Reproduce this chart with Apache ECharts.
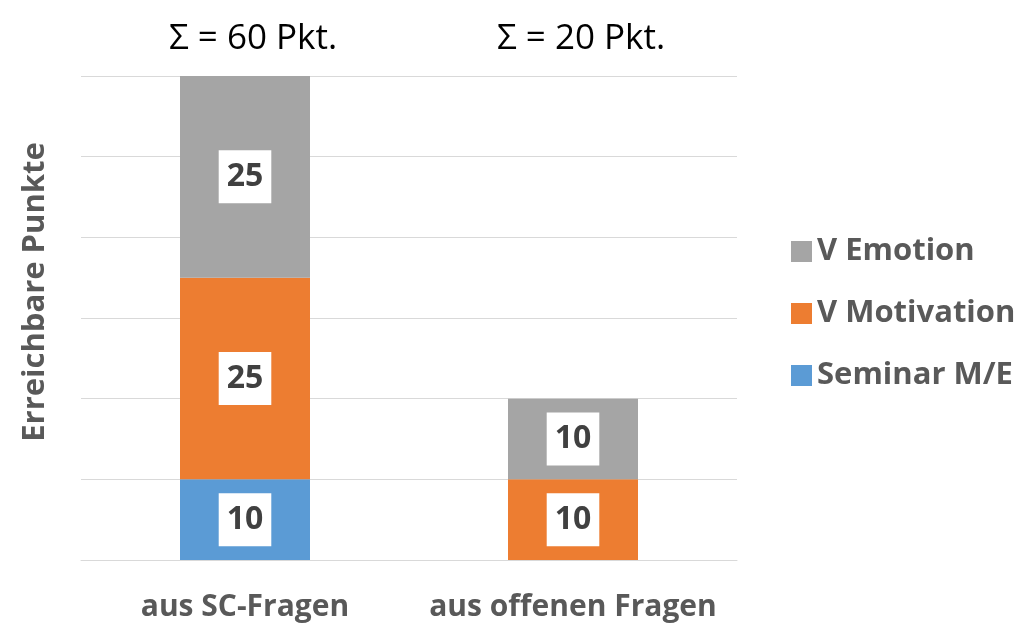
<!DOCTYPE html>
<html>
<head>
<meta charset="utf-8">
<script src="https://cdn.jsdelivr.net/npm/echarts@6/dist/echarts.min.js"></script>
<style>html,body{margin:0;padding:0;background:#fff}#c{width:1023px;height:625px}</style>
</head>
<body>
<div id="c"></div>
<script>
const categories = ['aus SC-Fragen', 'aus offenen Fragen'];
const topLabels = ['Σ = 60 Pkt.', 'Σ = 20 Pkt.'];
const seminarME = [10, null];
const vMotivation = [25, 10];
const vEmotion = [25, 10];
const yAxisName = 'Erreichbare Punkte';

const FONT = '"Open Sans", "Noto Sans", sans-serif';
const labelStyle = {
  show: true,
  position: 'inside',
  formatter: p => p.value,
  fontFamily: FONT,
  fontWeight: 'bold',
  fontSize: 32,
  color: '#404040',
  backgroundColor: '#ffffff',
  padding: [9, 8, 7, 8],
  lineHeight: 37
};
function mk(name, data, color) {
  return {
    name, type: 'bar', stack: 'total', data, barWidth: 130,
    itemStyle: { color },
    label: labelStyle,
    emphasis: { disabled: true }
  };
}
const chart = echarts.init(document.getElementById('c'));
chart.setOption({
  animation: false,
  grid: { left: 81, right: 286, top: 76, bottom: 65 },
  legend: {
    orient: 'vertical', left: 786, top: 231,
    data: ['V Emotion', 'V Motivation', 'Seminar M/E'],
    itemWidth: 21, itemHeight: 21, itemGap: 31,
    icon: 'rect',
    textStyle: { fontFamily: FONT, fontWeight: 'bold', fontSize: 31, color: '#595959' }
  },
  xAxis: [{
    type: 'category', data: categories,
    axisLine: { lineStyle: { color: '#d9d9d9' } },
    axisTick: { show: false },
    axisLabel: { interval: 0, fontFamily: FONT, fontWeight: 'bold', fontSize: 30, color: '#595959', margin: 32 }
  }, {
    type: 'category', data: topLabels, position: 'top',
    axisLine: { show: false }, axisTick: { show: false },
    axisLabel: { interval: 0, fontFamily: FONT, fontSize: 35, color: '#000000', margin: 19, padding: [0, 0, 0, 16] }
  }],
  yAxis: {
    type: 'value', min: 0, max: 60, interval: 10,
    name: yAxisName, nameLocation: 'middle', nameGap: 30,
    nameTextStyle: { fontFamily: FONT, fontWeight: 'bold', fontSize: 31, color: '#595959', padding: [0, 0, 0, 52] },
    axisLabel: { show: false },
    axisLine: { show: false }, axisTick: { show: false },
    splitLine: { lineStyle: { color: '#d9d9d9', width: 1 } }
  },
  series: [
    mk('Seminar M/E', seminarME, '#5B9BD5'),
    mk('V Motivation', vMotivation, '#ED7D31'),
    mk('V Emotion', vEmotion, '#A5A5A5')
  ]
});
</script>
</body>
</html>
